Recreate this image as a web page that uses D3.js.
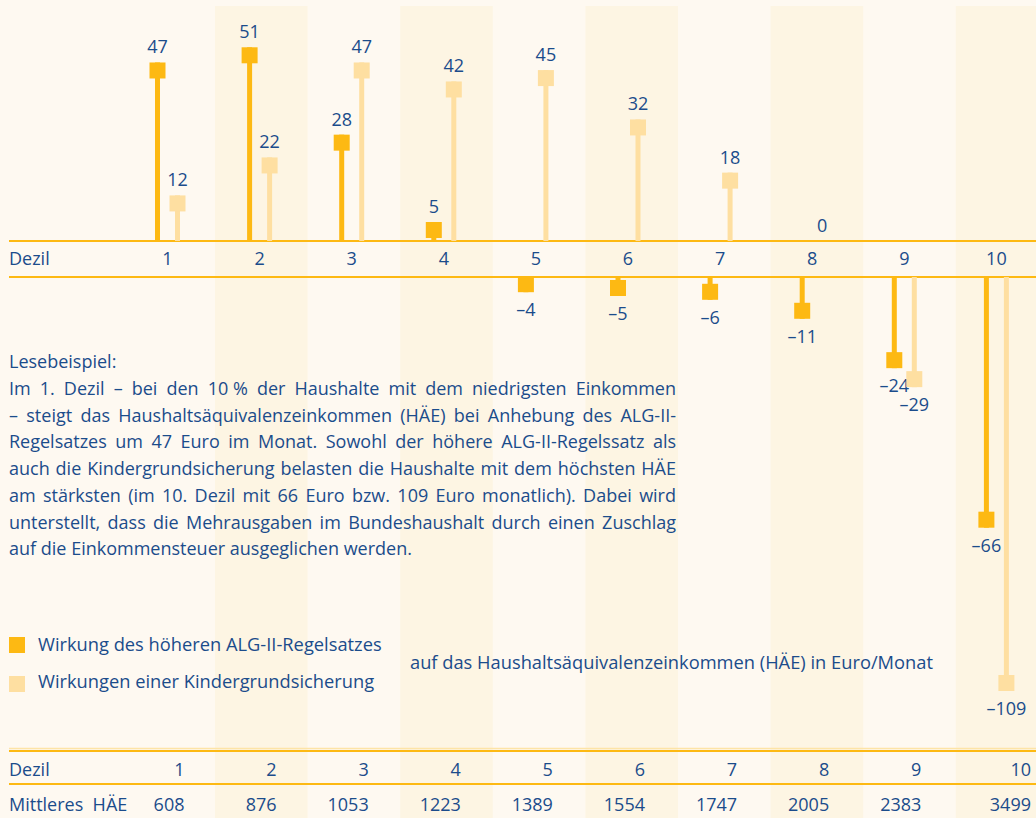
<!DOCTYPE html>
<html>
<head>
<meta charset="utf-8">
<script src="https://cdn.jsdelivr.net/npm/d3@7"></script>
<style>
  html, body { margin: 0; padding: 0; background: #fef9f1; }
  svg { display: block; }
  text { font-family: "Open Sans", "Noto Sans", sans-serif; fill: #1b4c8b; }
</style>
</head>
<body>
<svg id="chart"></svg>
<script>
// data
const deciles = [1, 2, 3, 4, 5, 6, 7, 8, 9, 10];
const alg2Effect = [47, 51, 28, 5, -4, -5, -6, -11, -24, -66];
const kinderEffect = [12, 22, 47, 42, 45, 32, 18, 0, -29, -109];
const meanIncome = [608, 876, 1053, 1223, 1389, 1554, 1747, 2005, 2383, 3499];

const seriesNames = [
  "Wirkung des höheren ALG-II-Regelsatzes",
  "Wirkungen einer Kindergrundsicherung"
];
const subtitle = "auf das Haushaltsäquivalenzeinkommen (HÄE) in Euro/Monat";
const noteTitle = "Lesebeispiel:";
const noteLines = [
  "Im 1. Dezil – bei den 10\u00a0% der Haushalte mit dem niedrigsten Einkommen",
  "– steigt das Haushaltsäquivalenzeinkommen (HÄE) bei Anhebung des ALG-II-",
  "Regelsatzes um 47 Euro im Monat. Sowohl der höhere ALG-II-Regelssatz als",
  "auch die Kindergrundsicherung belasten die Haushalte mit dem höchsten HÄE",
  "am stärksten (im 10. Dezil mit 66 Euro bzw. 109 Euro monatlich). Dabei wird",
  "unterstellt, dass die Mehrausgaben im Bundeshaushalt durch einen Zuschlag",
  "auf die Einkommensteuer ausgeglichen werden."
];

const width = 1036;
const height = 818;

const colors = {
  bg: "#fef9f1",
  band: "#fdf5e3",
  alg2: "#fdb913",
  kinder: "#fedfa1",
  line: "#fdb913",
  lineLight: "#fde4a6"
};

const svg = d3.select("#chart").attr("width", width).attr("height", height);

svg.append("rect").attr("width", width).attr("height", height).attr("fill", colors.bg);

// scales
const bandX = d3.scaleBand().domain(deciles).range([122.4, 1048.4]);
const x = d3.scaleBand().domain(deciles).range([121.45, 1042.45]);
const cx = (d) => x(d) + x.bandwidth() / 2;
const len = d3.scaleLinear().domain([0, 109]).range([0, 414]);

const posBase = 241;   // top edge of Dezil strip
const negBase = 277;   // bottom edge of Dezil strip
const sq = 16;

const fmtValue = (v) => (v < 0 ? "–" + Math.abs(v) : String(v));

// alternating column shading
svg.append("g")
  .selectAll("rect")
  .data(deciles.filter((d) => d % 2 === 0))
  .join("rect")
  .attr("x", (d) => bandX(d))
  .attr("y", 6)
  .attr("width", bandX.bandwidth())
  .attr("height", height - 6)
  .attr("fill", colors.band);

// axis strip
const axisG = svg.append("g");
[posBase, negBase].forEach((y) => {
  axisG.append("line")
    .attr("x1", 9).attr("x2", width)
    .attr("y1", y).attr("y2", y)
    .attr("stroke", colors.line).attr("stroke-width", 2);
});
axisG.append("text").attr("x", 9).attr("y", 265).attr("font-size", 18).text("Dezil");
axisG.selectAll("text.tick")
  .data(deciles)
  .join("text")
  .attr("class", "tick")
  .attr("x", cx)
  .attr("y", 265)
  .attr("text-anchor", "middle")
  .attr("font-size", 18)
  .text((d) => d);

// lollipops
const series = [
  { values: alg2Effect, color: colors.alg2, dx: -10 },
  { values: kinderEffect, color: colors.kinder, dx: 10 }
];

const barsG = svg.append("g");
series.forEach((s) => {
  const pts = deciles.map((d, i) => ({ d, v: s.values[i], xc: cx(d) + s.dx }));

  const g = barsG.append("g");

  // stems
  g.selectAll("rect.stem")
    .data(pts.filter((p) => p.v !== 0))
    .join("rect")
    .attr("class", "stem")
    .attr("x", (p) => p.xc - 2.5)
    .attr("width", 5)
    .attr("y", (p) => (p.v > 0 ? posBase - len(p.v) : negBase))
    .attr("height", (p) => len(Math.abs(p.v)))
    .attr("fill", s.color);

  // heads
  g.selectAll("rect.head")
    .data(pts.filter((p) => p.v !== 0))
    .join("rect")
    .attr("class", "head")
    .attr("x", (p) => p.xc - sq / 2)
    .attr("width", sq)
    .attr("height", sq)
    .attr("y", (p) => (p.v > 0 ? posBase - len(p.v) : negBase + len(-p.v) - sq))
    .attr("fill", s.color);

  // value labels
  g.selectAll("text")
    .data(pts)
    .join("text")
    .attr("x", (p) => p.xc)
    .attr("y", (p) => (p.v >= 0 ? posBase - len(p.v) - 9 : negBase + len(-p.v) + 24))
    .attr("text-anchor", "middle")
    .attr("font-size", 18)
    .text((p) => fmtValue(p.v));
});

// reading example, justified
const noteG = svg.append("g").attr("font-size", 18);
const lineH = 26.7;
noteG.append("text").attr("x", 9).attr("y", 368).text(noteTitle);

function measure(str) {
  const t = noteG.append("text").text(str);
  const w = t.node().getComputedTextLength();
  t.remove();
  return w;
}
const spaceW = measure("x x") - measure("xx");

noteLines.forEach((line, li) => {
  const y = 395 + li * lineH;
  const words = line.split(" ");
  const nodes = words.map((w) => noteG.append("text").attr("y", y).text(w));
  const widths = nodes.map((n) => n.node().getComputedTextLength());
  const justify = li < noteLines.length - 1;
  const gap = justify ? (676 - 9 - d3.sum(widths)) / (words.length - 1) : spaceW;
  let px = 9;
  nodes.forEach((n, i) => {
    n.attr("x", px);
    px += widths[i] + gap;
  });
});

// legend
const legendG = svg.append("g").attr("font-size", 18.3);
const legendRows = [
  { name: seriesNames[0], color: colors.alg2, y: 651, sy: 637 },
  { name: seriesNames[1], color: colors.kinder, y: 688, sy: 676 }
];
legendRows.forEach((r) => {
  legendG.append("rect").attr("x", 9).attr("y", r.sy).attr("width", sq).attr("height", sq).attr("fill", r.color);
  legendG.append("text").attr("x", 38).attr("y", r.y).text(r.name);
});
legendG.append("text").attr("x", 410).attr("y", 669).text(subtitle);

// bottom table
const tableG = svg.append("g").attr("font-size", 18);
tableG.append("line")
  .attr("x1", 9).attr("x2", width).attr("y1", 748.5).attr("y2", 748.5)
  .attr("stroke", colors.lineLight).attr("stroke-width", 1.5);
tableG.append("line")
  .attr("x1", 9).attr("x2", width).attr("y1", 751).attr("y2", 751)
  .attr("stroke", colors.line).attr("stroke-width", 2);
tableG.append("line")
  .attr("x1", 9).attr("x2", width).attr("y1", 784).attr("y2", 784)
  .attr("stroke", colors.line).attr("stroke-width", 2);

const colRight = (d) => (d === deciles[deciles.length - 1] ? width - 5 : cx(d) + 17);

tableG.append("text").attr("x", 9).attr("y", 776).text("Dezil");
tableG.append("text").attr("x", 9).attr("y", 811).text("Mittleres\u00a0\u00a0HÄE");

tableG.selectAll("text.dez")
  .data(deciles)
  .join("text")
  .attr("class", "dez")
  .attr("x", colRight)
  .attr("y", 776)
  .attr("text-anchor", "end")
  .text((d) => d);

tableG.selectAll("text.inc")
  .data(deciles)
  .join("text")
  .attr("class", "inc")
  .attr("x", colRight)
  .attr("y", 811)
  .attr("text-anchor", "end")
  .text((d, i) => meanIncome[i]);
</script>
</body>
</html>
